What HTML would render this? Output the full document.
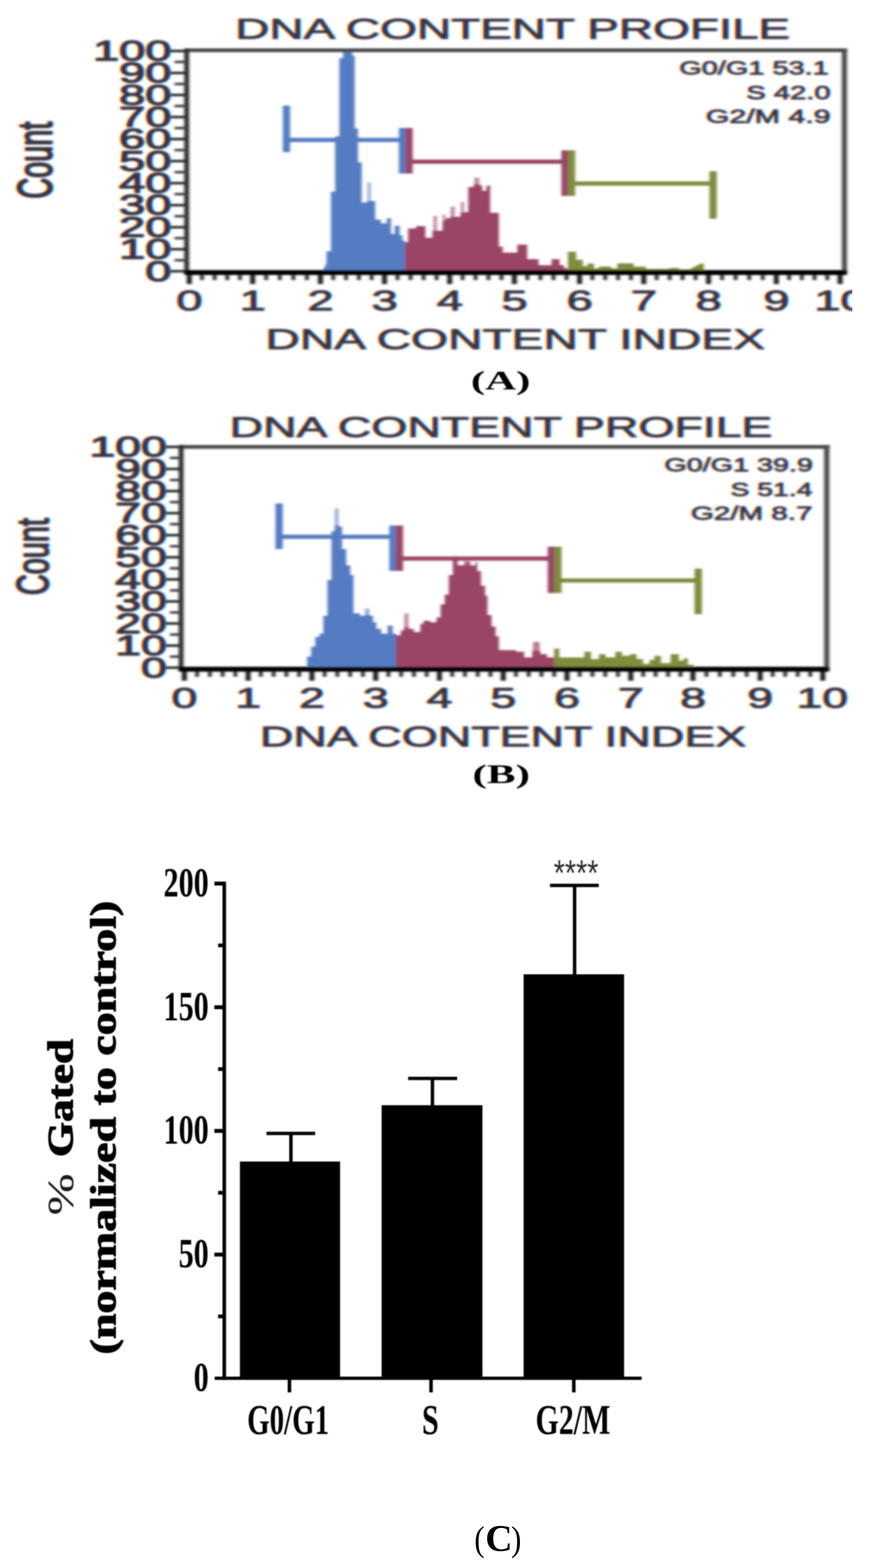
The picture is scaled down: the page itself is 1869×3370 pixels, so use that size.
<!DOCTYPE html>
<html lang="en"><head><meta charset="utf-8"><title>Cell cycle analysis</title>
<style>
html,body{margin:0;padding:0;background:#fff;}
body{width:1869px;height:3370px;}
svg{display:block;}
</style></head><body>
<svg width="1869" height="3370" viewBox="0 0 1869 3370">
<defs>
<filter id="bl" filterUnits="userSpaceOnUse" x="0" y="0" width="1869" height="1760"><feGaussianBlur stdDeviation="3.1 2.1"/></filter>
<filter id="tfA" filterUnits="userSpaceOnUse" x="-20" y="0" width="1909" height="860" color-interpolation-filters="sRGB"><feGaussianBlur in="SourceGraphic" stdDeviation="2.9 1.9" result="bl0"/><feFlood flood-color="#fff" result="w"/><feComposite in="bl0" in2="w" operator="over" result="img"/><feColorMatrix in="img" type="matrix" values="1 0 0 0 0  0 0 0 0 0  0 0 0 0 0  0 0 0 1 0" result="r"/><feOffset in="r" dx="1.8" dy="0" result="r2"/><feColorMatrix in="img" type="matrix" values="0 0 0 0 0  0 1 0 0 0  0 0 0 0 0  0 0 0 1 0" result="g"/><feColorMatrix in="img" type="matrix" values="0 0 0 0 0  0 0 0 0 0  0 0 1 0 0  0 0 0 1 0" result="b1"/><feOffset in="b1" dx="-1.8" dy="0" result="b2"/><feComposite in="r2" in2="g" operator="arithmetic" k1="0" k2="1" k3="1" k4="0" result="rg"/><feComposite in="rg" in2="b2" operator="arithmetic" k1="0" k2="1" k3="1" k4="0"/></filter>
<filter id="tfB" filterUnits="userSpaceOnUse" x="-20" y="860" width="1909" height="900" color-interpolation-filters="sRGB"><feGaussianBlur in="SourceGraphic" stdDeviation="2.9 1.9" result="bl0"/><feFlood flood-color="#fff" result="w"/><feComposite in="bl0" in2="w" operator="over" result="img"/><feColorMatrix in="img" type="matrix" values="1 0 0 0 0  0 0 0 0 0  0 0 0 0 0  0 0 0 1 0" result="r"/><feOffset in="r" dx="1.8" dy="0" result="r2"/><feColorMatrix in="img" type="matrix" values="0 0 0 0 0  0 1 0 0 0  0 0 0 0 0  0 0 0 1 0" result="g"/><feColorMatrix in="img" type="matrix" values="0 0 0 0 0  0 0 0 0 0  0 0 1 0 0  0 0 0 1 0" result="b1"/><feOffset in="b1" dx="-1.8" dy="0" result="b2"/><feComposite in="r2" in2="g" operator="arithmetic" k1="0" k2="1" k3="1" k4="0" result="rg"/><feComposite in="rg" in2="b2" operator="arithmetic" k1="0" k2="1" k3="1" k4="0"/></filter>
<filter id="blc" filterUnits="userSpaceOnUse" x="0" y="1760" width="1869" height="1610"><feGaussianBlur stdDeviation="1.15"/></filter>
<filter id="blcap" filterUnits="userSpaceOnUse" x="900" y="760" width="400" height="1000"><feGaussianBlur stdDeviation="1.4"/></filter>
<clipPath id="clipA"><rect x="0" y="0" width="1830.5" height="800"/></clipPath>
</defs>
<rect width="1869" height="3370" fill="#fff"/>
<g clip-path="url(#clipA)"><g filter="url(#tfA)" fill="#38343f" stroke="#38343f" stroke-width="1.8" stroke-linejoin="round" font-family="'Liberation Sans',sans-serif"><text x="505" y="82.5" font-size="62" textLength="1192" lengthAdjust="spacingAndGlyphs">DNA CONTENT PROFILE</text><text x="570" y="750" font-size="62" textLength="1073" lengthAdjust="spacingAndGlyphs">DNA CONTENT INDEX</text><text x="378.6" y="667" font-size="61" stroke-width="2.1" textLength="56.2" lengthAdjust="spacingAndGlyphs">0</text><text x="514.6" y="667" font-size="61" stroke-width="2.1" textLength="56.2" lengthAdjust="spacingAndGlyphs">1</text><text x="660.3" y="667" font-size="61" stroke-width="2.1" textLength="56.2" lengthAdjust="spacingAndGlyphs">2</text><text x="797.9" y="667" font-size="61" stroke-width="2.1" textLength="56.2" lengthAdjust="spacingAndGlyphs">3</text><text x="937.9" y="667" font-size="61" stroke-width="2.1" textLength="56.2" lengthAdjust="spacingAndGlyphs">4</text><text x="1076.9" y="667" font-size="61" stroke-width="2.1" textLength="56.2" lengthAdjust="spacingAndGlyphs">5</text><text x="1216.9" y="667" font-size="61" stroke-width="2.1" textLength="56.2" lengthAdjust="spacingAndGlyphs">6</text><text x="1354.9" y="667" font-size="61" stroke-width="2.1" textLength="56.2" lengthAdjust="spacingAndGlyphs">7</text><text x="1493.9" y="667" font-size="61" stroke-width="2.1" textLength="56.2" lengthAdjust="spacingAndGlyphs">8</text><text x="1639.7" y="667" font-size="61" stroke-width="2.1" textLength="56.2" lengthAdjust="spacingAndGlyphs">9</text><text x="1749.0" y="667" font-size="61" stroke-width="2.1" textLength="112.4" lengthAdjust="spacingAndGlyphs">10</text><text x="311.8" y="603.5" font-size="61" stroke-width="2.6" textLength="56.2" lengthAdjust="spacingAndGlyphs">0</text><text x="255.6" y="556.1" font-size="61" stroke-width="2.6" textLength="112.4" lengthAdjust="spacingAndGlyphs">10</text><text x="255.6" y="508.8" font-size="61" stroke-width="2.6" textLength="112.4" lengthAdjust="spacingAndGlyphs">20</text><text x="255.6" y="461.4" font-size="61" stroke-width="2.6" textLength="112.4" lengthAdjust="spacingAndGlyphs">30</text><text x="255.6" y="414.1" font-size="61" stroke-width="2.6" textLength="112.4" lengthAdjust="spacingAndGlyphs">40</text><text x="255.6" y="366.8" font-size="61" stroke-width="2.6" textLength="112.4" lengthAdjust="spacingAndGlyphs">50</text><text x="255.6" y="319.4" font-size="61" stroke-width="2.6" textLength="112.4" lengthAdjust="spacingAndGlyphs">60</text><text x="255.6" y="272.1" font-size="61" stroke-width="2.6" textLength="112.4" lengthAdjust="spacingAndGlyphs">70</text><text x="255.6" y="224.7" font-size="61" stroke-width="2.6" textLength="112.4" lengthAdjust="spacingAndGlyphs">80</text><text x="255.6" y="177.4" font-size="61" stroke-width="2.6" textLength="112.4" lengthAdjust="spacingAndGlyphs">90</text><text x="199.4" y="130.0" font-size="61" stroke-width="2.6" textLength="168.6" lengthAdjust="spacingAndGlyphs">100</text><text transform="translate(110.5,427) scale(1.68,1.0) rotate(-90)" font-size="62" stroke-width="3">Count</text><text x="1459" y="160" font-size="41" textLength="321" lengthAdjust="spacingAndGlyphs">G0/G1 53.1</text><text x="1603" y="212.5" font-size="41" textLength="181" lengthAdjust="spacingAndGlyphs">S 42.0</text><text x="1516" y="263.5" font-size="41" textLength="268" lengthAdjust="spacingAndGlyphs">G2/M 4.9</text></g><g filter="url(#bl)"><path d="M701.5,581.5L701.5,540.0L710.8,540.0L710.8,412.0L720.0,412.0L720.0,293.0L729.0,293.0L729.0,125.0L737.0,125.0L737.0,109.0L757.0,109.0L757.0,120.0L762.0,120.0L762.0,276.0L769.0,276.0L769.0,349.0L777.0,349.0L777.0,435.5L788.0,435.5L788.0,432.0L798.5,432.0L798.5,432.0L806.0,432.0L806.0,472.0L818.0,472.0L818.0,480.0L831.0,480.0L831.0,469.0L840.0,469.0L840.0,503.0L848.0,503.0L848.0,485.0L858.6,485.0L858.6,506.0L864.8,506.0L864.8,518.0L871.0,518.0L871.0,581.5Z" fill="#547bc2"/><path d="M870.0,581.5L870.0,521.0L876.8,521.0L876.8,491.0L893.6,491.0L893.6,486.0L913.7,486.0L913.7,511.0L928.9,511.0L928.9,496.0L950.7,496.0L950.7,475.0L957.4,475.0L957.4,469.0L967.5,469.0L967.5,466.0L977.6,466.0L977.6,466.0L989.3,466.0L989.3,457.0L997.7,457.0L997.7,456.0L1006.0,456.0L1006.0,402.0L1017.9,402.0L1017.9,396.0L1031.3,396.0L1031.3,410.0L1053.0,410.0L1053.0,457.6L1071.6,457.6L1071.6,530.0L1080.0,530.0L1080.0,543.0L1111.5,543.0L1111.5,525.7L1132.5,525.7L1132.5,557.0L1157.0,557.0L1157.0,570.0L1185.0,570.0L1185.0,557.0L1202.0,557.0L1202.0,570.0L1212.0,570.0L1212.0,577.0L1220.0,577.0L1220.0,581.5Z" fill="#9a4465"/><path d="M1220.0,581.5L1220.0,541.0L1237.5,541.0L1237.5,558.5L1252.0,558.5L1252.0,572.0L1262.0,572.0L1262.0,566.5L1276.0,566.5L1276.0,577.0L1286.0,577.0L1286.0,573.0L1313.0,573.0L1313.0,577.0L1326.0,577.0L1326.0,566.0L1361.0,566.0L1361.0,573.0L1387.0,573.0L1387.0,578.0L1438.0,578.0L1438.0,576.0L1459.0,576.0L1459.0,579.0L1483.0,579.0L1483.0,581.5Z" fill="#7f8b3d"/><rect x="789.0" y="392.0" width="8.0" height="42.0" fill="#547bc2" opacity="0.55"/><rect x="931.0" y="464.0" width="8.0" height="33.0" fill="#9a4465" opacity="0.6"/><rect x="951.0" y="461.0" width="6.0" height="15.0" fill="#9a4465" opacity="0.6"/><rect x="968.0" y="444.0" width="9.0" height="23.0" fill="#9a4465" opacity="0.6"/><rect x="990.0" y="434.0" width="7.0" height="24.0" fill="#9a4465" opacity="0.6"/><rect x="1019.0" y="382.0" width="11.0" height="15.0" fill="#9a4465" opacity="0.6"/><rect x="1031.0" y="399.0" width="5.0" height="12.0" fill="#9a4465" opacity="1"/><rect x="1045.0" y="399.0" width="8.0" height="12.0" fill="#9a4465" opacity="1"/><polygon points="693,582 701.5,565 701.5,582" fill="#547bc2"/><polygon points="1483,582 1483,578 1505,566.5 1512,566.5 1512,582" fill="#7f8b3d"/><rect x="615.4" y="296.3" width="255.6" height="9.0" fill="#547bc2"/><rect x="607.6" y="227.0" width="15.5" height="100.0" fill="#547bc2"/><rect x="857.0" y="275.0" width="15.0" height="98.0" fill="#547bc2"/><rect x="871.0" y="343.0" width="349.0" height="9.0" fill="#9a4465"/><rect x="871.0" y="275.0" width="15.5" height="98.0" fill="#9a4465"/><rect x="1206.0" y="323.0" width="15.0" height="98.0" fill="#9a4465"/><rect x="1220.0" y="390.0" width="312.0" height="9.0" fill="#7f8b3d"/><rect x="1220.0" y="323.0" width="15.5" height="98.0" fill="#7f8b3d"/><rect x="1524.2" y="368.0" width="15.5" height="102.0" fill="#7f8b3d"/><rect x="395.8" y="104.0" width="1424.5" height="8.0" fill="#484848"/><rect x="1808.5" y="104.0" width="11.0" height="483.5" fill="#484848"/><rect x="395.8" y="104.0" width="10.5" height="483.5" fill="#2e2e2e"/><rect x="364.0" y="580.2" width="37.0" height="5.5" fill="#2e2e2e"/><rect x="375.0" y="556.6" width="26.0" height="5.5" fill="#444"/><rect x="364.0" y="532.9" width="37.0" height="5.5" fill="#2e2e2e"/><rect x="375.0" y="509.2" width="26.0" height="5.5" fill="#444"/><rect x="364.0" y="485.6" width="37.0" height="5.5" fill="#2e2e2e"/><rect x="375.0" y="461.9" width="26.0" height="5.5" fill="#444"/><rect x="364.0" y="438.2" width="37.0" height="5.5" fill="#2e2e2e"/><rect x="375.0" y="414.5" width="26.0" height="5.5" fill="#444"/><rect x="364.0" y="390.9" width="37.0" height="5.5" fill="#2e2e2e"/><rect x="375.0" y="367.2" width="26.0" height="5.5" fill="#444"/><rect x="364.0" y="343.5" width="37.0" height="5.5" fill="#2e2e2e"/><rect x="375.0" y="319.8" width="26.0" height="5.5" fill="#444"/><rect x="364.0" y="296.1" width="37.0" height="5.5" fill="#2e2e2e"/><rect x="375.0" y="272.5" width="26.0" height="5.5" fill="#444"/><rect x="364.0" y="248.8" width="37.0" height="5.5" fill="#2e2e2e"/><rect x="375.0" y="225.1" width="26.0" height="5.5" fill="#444"/><rect x="364.0" y="201.4" width="37.0" height="5.5" fill="#2e2e2e"/><rect x="375.0" y="177.8" width="26.0" height="5.5" fill="#444"/><rect x="364.0" y="154.1" width="37.0" height="5.5" fill="#2e2e2e"/><rect x="375.0" y="130.4" width="26.0" height="5.5" fill="#444"/><rect x="364.0" y="106.8" width="37.0" height="5.5" fill="#2e2e2e"/><rect x="429.9" y="585.8" width="8.0" height="16.2" fill="#2a2a2a"/><rect x="457.1" y="585.8" width="8.0" height="16.2" fill="#2a2a2a"/><rect x="484.3" y="585.8" width="8.0" height="16.2" fill="#2a2a2a"/><rect x="511.5" y="585.8" width="8.0" height="16.2" fill="#2a2a2a"/><rect x="567.8" y="585.8" width="8.0" height="16.2" fill="#2a2a2a"/><rect x="597.0" y="585.8" width="8.0" height="16.2" fill="#2a2a2a"/><rect x="626.1" y="585.8" width="8.0" height="16.2" fill="#2a2a2a"/><rect x="655.3" y="585.8" width="8.0" height="16.2" fill="#2a2a2a"/><rect x="711.9" y="585.8" width="8.0" height="16.2" fill="#2a2a2a"/><rect x="739.4" y="585.8" width="8.0" height="16.2" fill="#2a2a2a"/><rect x="767.0" y="585.8" width="8.0" height="16.2" fill="#2a2a2a"/><rect x="794.5" y="585.8" width="8.0" height="16.2" fill="#2a2a2a"/><rect x="850.0" y="585.8" width="8.0" height="16.2" fill="#2a2a2a"/><rect x="878.0" y="585.8" width="8.0" height="16.2" fill="#2a2a2a"/><rect x="906.0" y="585.8" width="8.0" height="16.2" fill="#2a2a2a"/><rect x="934.0" y="585.8" width="8.0" height="16.2" fill="#2a2a2a"/><rect x="989.8" y="585.8" width="8.0" height="16.2" fill="#2a2a2a"/><rect x="1017.6" y="585.8" width="8.0" height="16.2" fill="#2a2a2a"/><rect x="1045.4" y="585.8" width="8.0" height="16.2" fill="#2a2a2a"/><rect x="1073.2" y="585.8" width="8.0" height="16.2" fill="#2a2a2a"/><rect x="1129.0" y="585.8" width="8.0" height="16.2" fill="#2a2a2a"/><rect x="1157.0" y="585.8" width="8.0" height="16.2" fill="#2a2a2a"/><rect x="1185.0" y="585.8" width="8.0" height="16.2" fill="#2a2a2a"/><rect x="1213.0" y="585.8" width="8.0" height="16.2" fill="#2a2a2a"/><rect x="1268.6" y="585.8" width="8.0" height="16.2" fill="#2a2a2a"/><rect x="1296.2" y="585.8" width="8.0" height="16.2" fill="#2a2a2a"/><rect x="1323.8" y="585.8" width="8.0" height="16.2" fill="#2a2a2a"/><rect x="1351.4" y="585.8" width="8.0" height="16.2" fill="#2a2a2a"/><rect x="1406.8" y="585.8" width="8.0" height="16.2" fill="#2a2a2a"/><rect x="1434.6" y="585.8" width="8.0" height="16.2" fill="#2a2a2a"/><rect x="1462.4" y="585.8" width="8.0" height="16.2" fill="#2a2a2a"/><rect x="1490.2" y="585.8" width="8.0" height="16.2" fill="#2a2a2a"/><rect x="1547.2" y="585.8" width="8.0" height="16.2" fill="#2a2a2a"/><rect x="1576.3" y="585.8" width="8.0" height="16.2" fill="#2a2a2a"/><rect x="1605.5" y="585.8" width="8.0" height="16.2" fill="#2a2a2a"/><rect x="1634.6" y="585.8" width="8.0" height="16.2" fill="#2a2a2a"/><rect x="1691.2" y="585.8" width="8.0" height="16.2" fill="#2a2a2a"/><rect x="1718.6" y="585.8" width="8.0" height="16.2" fill="#2a2a2a"/><rect x="1745.9" y="585.8" width="8.0" height="16.2" fill="#2a2a2a"/><rect x="1773.3" y="585.8" width="8.0" height="16.2" fill="#2a2a2a"/><rect x="401.4" y="585.8" width="10.5" height="24.7" fill="#1a1a1a"/><rect x="537.5" y="585.8" width="10.5" height="24.7" fill="#1a1a1a"/><rect x="683.1" y="585.8" width="10.5" height="24.7" fill="#1a1a1a"/><rect x="820.8" y="585.8" width="10.5" height="24.7" fill="#1a1a1a"/><rect x="960.8" y="585.8" width="10.5" height="24.7" fill="#1a1a1a"/><rect x="1099.8" y="585.8" width="10.5" height="24.7" fill="#1a1a1a"/><rect x="1239.8" y="585.8" width="10.5" height="24.7" fill="#1a1a1a"/><rect x="1377.8" y="585.8" width="10.5" height="24.7" fill="#1a1a1a"/><rect x="1516.8" y="585.8" width="10.5" height="24.7" fill="#1a1a1a"/><rect x="1662.5" y="585.8" width="10.5" height="24.7" fill="#1a1a1a"/><rect x="1799.5" y="585.8" width="10.5" height="24.7" fill="#1a1a1a"/><rect x="395.8" y="580.5" width="1423.8" height="10.5" fill="#000"/></g></g>
<g filter="url(#tfB)" fill="#38343f" stroke="#38343f" stroke-width="1.8" stroke-linejoin="round" font-family="'Liberation Sans',sans-serif"><text x="493" y="939" font-size="62" textLength="1166" lengthAdjust="spacingAndGlyphs">DNA CONTENT PROFILE</text><text x="558" y="1604" font-size="62" textLength="1045" lengthAdjust="spacingAndGlyphs">DNA CONTENT INDEX</text><text x="368.3" y="1521" font-size="61" stroke-width="2.1" textLength="55.3" lengthAdjust="spacingAndGlyphs">0</text><text x="505.3" y="1521" font-size="61" stroke-width="2.1" textLength="55.3" lengthAdjust="spacingAndGlyphs">1</text><text x="642.3" y="1521" font-size="61" stroke-width="2.1" textLength="55.3" lengthAdjust="spacingAndGlyphs">2</text><text x="779.3" y="1521" font-size="61" stroke-width="2.1" textLength="55.3" lengthAdjust="spacingAndGlyphs">3</text><text x="916.3" y="1521" font-size="61" stroke-width="2.1" textLength="55.3" lengthAdjust="spacingAndGlyphs">4</text><text x="1053.3" y="1521" font-size="61" stroke-width="2.1" textLength="55.3" lengthAdjust="spacingAndGlyphs">5</text><text x="1190.3" y="1521" font-size="61" stroke-width="2.1" textLength="55.3" lengthAdjust="spacingAndGlyphs">6</text><text x="1327.3" y="1521" font-size="61" stroke-width="2.1" textLength="55.3" lengthAdjust="spacingAndGlyphs">7</text><text x="1460.9" y="1521" font-size="61" stroke-width="2.1" textLength="55.3" lengthAdjust="spacingAndGlyphs">8</text><text x="1605.3" y="1521" font-size="61" stroke-width="2.1" textLength="55.3" lengthAdjust="spacingAndGlyphs">9</text><text x="1711.0" y="1521" font-size="61" stroke-width="2.1" textLength="110.7" lengthAdjust="spacingAndGlyphs">10</text><text x="302.7" y="1455.5" font-size="61" stroke-width="2.6" textLength="55.3" lengthAdjust="spacingAndGlyphs">0</text><text x="247.3" y="1408.0" font-size="61" stroke-width="2.6" textLength="110.7" lengthAdjust="spacingAndGlyphs">10</text><text x="247.3" y="1360.6" font-size="61" stroke-width="2.6" textLength="110.7" lengthAdjust="spacingAndGlyphs">20</text><text x="247.3" y="1313.2" font-size="61" stroke-width="2.6" textLength="110.7" lengthAdjust="spacingAndGlyphs">30</text><text x="247.3" y="1265.7" font-size="61" stroke-width="2.6" textLength="110.7" lengthAdjust="spacingAndGlyphs">40</text><text x="247.3" y="1218.2" font-size="61" stroke-width="2.6" textLength="110.7" lengthAdjust="spacingAndGlyphs">50</text><text x="247.3" y="1170.8" font-size="61" stroke-width="2.6" textLength="110.7" lengthAdjust="spacingAndGlyphs">60</text><text x="247.3" y="1123.3" font-size="61" stroke-width="2.6" textLength="110.7" lengthAdjust="spacingAndGlyphs">70</text><text x="247.3" y="1075.9" font-size="61" stroke-width="2.6" textLength="110.7" lengthAdjust="spacingAndGlyphs">80</text><text x="247.3" y="1028.5" font-size="61" stroke-width="2.6" textLength="110.7" lengthAdjust="spacingAndGlyphs">90</text><text x="192.0" y="981.0" font-size="61" stroke-width="2.6" textLength="166.0" lengthAdjust="spacingAndGlyphs">100</text><text transform="translate(103.5,1279) scale(1.56,1.0) rotate(-90)" font-size="62" stroke-width="3">Count</text><text x="1427" y="1013" font-size="41" textLength="319" lengthAdjust="spacingAndGlyphs">G0/G1 39.9</text><text x="1569" y="1065.5" font-size="41" textLength="176" lengthAdjust="spacingAndGlyphs">S 51.4</text><text x="1484" y="1116.5" font-size="41" textLength="261" lengthAdjust="spacingAndGlyphs">G2/M 8.7</text></g><g filter="url(#bl)"><path d="M659.7,1434.0L659.7,1410.9L668.5,1410.9L668.5,1389.9L677.2,1389.9L677.2,1368.9L686.0,1368.9L686.0,1361.9L694.7,1361.9L694.7,1323.4L703.5,1323.4L703.5,1246.4L712.2,1246.4L712.2,1141.5L719.2,1141.5L719.2,1129.2L727.9,1129.2L727.9,1131.7L734.9,1131.7L734.9,1180.0L743.7,1180.0L743.7,1214.9L752.4,1214.9L752.4,1235.9L759.4,1235.9L759.4,1318.2L773.4,1318.2L773.4,1323.4L783.9,1323.4L783.9,1321.7L794.4,1321.7L794.4,1323.4L801.4,1323.4L801.4,1337.4L808.4,1337.4L808.4,1351.4L818.9,1351.4L818.9,1361.9L832.9,1361.9L832.9,1344.4L843.4,1344.4L843.4,1361.9L851.1,1361.9L851.1,1434.0Z" fill="#547bc2"/><path d="M850.1,1434.0L850.1,1365.4L860.9,1365.4L860.9,1354.9L867.9,1354.9L867.9,1347.9L878.4,1347.9L878.4,1351.4L888.9,1351.4L888.9,1358.4L902.9,1358.4L902.9,1340.9L909.9,1340.9L909.9,1333.9L923.9,1333.9L923.9,1337.4L937.9,1337.4L937.9,1326.9L946.6,1326.9L946.6,1298.9L955.4,1298.9L955.4,1277.9L964.1,1277.9L964.1,1235.9L972.9,1235.9L972.9,1204.5L979.9,1204.5L979.9,1214.9L1000.2,1214.9L1000.0,1215.2L1024.5,1215.2L1024.5,1227.5L1033.2,1227.5L1033.2,1259.0L1042.0,1259.0L1042.0,1280.0L1047.2,1280.0L1047.2,1321.9L1056.0,1321.9L1056.0,1346.4L1064.7,1346.4L1064.7,1367.4L1071.7,1367.4L1071.7,1397.2L1108.5,1397.2L1108.5,1400.7L1126.0,1400.7L1126.0,1412.9L1143.5,1412.9L1143.5,1398.9L1161.0,1398.9L1161.0,1405.9L1174.9,1405.9L1174.9,1412.9L1191.4,1412.9L1191.4,1434.0Z" fill="#9a4465"/><path d="M1190.7,1434.0L1190.7,1393.7L1201.2,1393.7L1201.2,1412.9L1255.4,1412.9L1255.4,1400.7L1269.4,1400.7L1269.4,1416.4L1286.9,1416.4L1286.9,1405.9L1300.9,1405.9L1300.9,1412.9L1321.9,1412.9L1321.9,1400.7L1335.9,1400.7L1335.9,1409.4L1353.4,1409.4L1353.4,1405.9L1367.4,1405.9L1367.4,1416.4L1381.4,1416.4L1381.4,1426.9L1395.4,1426.9L1395.4,1418.2L1405.9,1418.2L1405.9,1409.4L1419.9,1409.4L1419.9,1425.2L1440.9,1425.2L1440.9,1405.9L1458.4,1405.9L1458.4,1419.9L1468.9,1419.9L1468.9,1414.7L1477.6,1414.7L1477.6,1428.7L1489.9,1428.7L1489.9,1434.0Z" fill="#7f8b3d"/><rect x="719.2" y="1092.5" width="8.0" height="38.5" fill="#547bc2" opacity="0.6"/><rect x="783.9" y="1307.7" width="9.8" height="16.4" fill="#547bc2" opacity="0.6"/><rect x="868.6" y="1318.2" width="9.1" height="31.5" fill="#9a4465" opacity="0.6"/><rect x="972.9" y="1195.7" width="10.5" height="21.0" fill="#9a4465" opacity="0.9"/><rect x="997.4" y="1206.5" width="13.1" height="10.5" fill="#9a4465" opacity="0.9"/><rect x="1021.0" y="1208.2" width="4.2" height="19.2" fill="#9a4465" opacity="0.9"/><rect x="1145.2" y="1379.7" width="14.0" height="21.0" fill="#9a4465" opacity="0.7"/><rect x="599.5" y="1149.2" width="250.9" height="9.0" fill="#547bc2"/><rect x="591.8" y="1082.0" width="15.5" height="98.0" fill="#547bc2"/><rect x="836.4" y="1129.5" width="15.0" height="97.5" fill="#547bc2"/><rect x="850.4" y="1196.0" width="340.3" height="9.0" fill="#9a4465"/><rect x="850.4" y="1129.5" width="15.5" height="97.5" fill="#9a4465"/><rect x="1176.7" y="1175.0" width="15.0" height="99.5" fill="#9a4465"/><rect x="1190.7" y="1243.1" width="309.3" height="9.0" fill="#7f8b3d"/><rect x="1190.7" y="1175.0" width="15.5" height="99.5" fill="#7f8b3d"/><rect x="1492.2" y="1222.0" width="15.5" height="98.0" fill="#7f8b3d"/><rect x="383.8" y="956.5" width="1398.5" height="8.0" fill="#484848"/><rect x="1770.5" y="956.5" width="11.0" height="483.5" fill="#484848"/><rect x="383.8" y="956.5" width="10.5" height="483.5" fill="#2e2e2e"/><rect x="354.0" y="1432.2" width="35.0" height="5.5" fill="#2e2e2e"/><rect x="365.0" y="1408.5" width="24.0" height="5.5" fill="#444"/><rect x="354.0" y="1384.8" width="35.0" height="5.5" fill="#2e2e2e"/><rect x="365.0" y="1361.1" width="24.0" height="5.5" fill="#444"/><rect x="354.0" y="1337.3" width="35.0" height="5.5" fill="#2e2e2e"/><rect x="365.0" y="1313.6" width="24.0" height="5.5" fill="#444"/><rect x="354.0" y="1289.9" width="35.0" height="5.5" fill="#2e2e2e"/><rect x="365.0" y="1266.2" width="24.0" height="5.5" fill="#444"/><rect x="354.0" y="1242.5" width="35.0" height="5.5" fill="#2e2e2e"/><rect x="365.0" y="1218.7" width="24.0" height="5.5" fill="#444"/><rect x="354.0" y="1195.0" width="35.0" height="5.5" fill="#2e2e2e"/><rect x="365.0" y="1171.3" width="24.0" height="5.5" fill="#444"/><rect x="354.0" y="1147.5" width="35.0" height="5.5" fill="#2e2e2e"/><rect x="365.0" y="1123.8" width="24.0" height="5.5" fill="#444"/><rect x="354.0" y="1100.1" width="35.0" height="5.5" fill="#2e2e2e"/><rect x="365.0" y="1076.4" width="24.0" height="5.5" fill="#444"/><rect x="354.0" y="1052.7" width="35.0" height="5.5" fill="#2e2e2e"/><rect x="365.0" y="1028.9" width="24.0" height="5.5" fill="#444"/><rect x="354.0" y="1005.2" width="35.0" height="5.5" fill="#2e2e2e"/><rect x="365.0" y="981.5" width="24.0" height="5.5" fill="#444"/><rect x="354.0" y="957.8" width="35.0" height="5.5" fill="#2e2e2e"/><rect x="419.4" y="1438.3" width="8.0" height="16.2" fill="#2a2a2a"/><rect x="446.8" y="1438.3" width="8.0" height="16.2" fill="#2a2a2a"/><rect x="474.2" y="1438.3" width="8.0" height="16.2" fill="#2a2a2a"/><rect x="501.6" y="1438.3" width="8.0" height="16.2" fill="#2a2a2a"/><rect x="556.4" y="1438.3" width="8.0" height="16.2" fill="#2a2a2a"/><rect x="583.8" y="1438.3" width="8.0" height="16.2" fill="#2a2a2a"/><rect x="611.2" y="1438.3" width="8.0" height="16.2" fill="#2a2a2a"/><rect x="638.6" y="1438.3" width="8.0" height="16.2" fill="#2a2a2a"/><rect x="693.4" y="1438.3" width="8.0" height="16.2" fill="#2a2a2a"/><rect x="720.8" y="1438.3" width="8.0" height="16.2" fill="#2a2a2a"/><rect x="748.2" y="1438.3" width="8.0" height="16.2" fill="#2a2a2a"/><rect x="775.6" y="1438.3" width="8.0" height="16.2" fill="#2a2a2a"/><rect x="830.4" y="1438.3" width="8.0" height="16.2" fill="#2a2a2a"/><rect x="857.8" y="1438.3" width="8.0" height="16.2" fill="#2a2a2a"/><rect x="885.2" y="1438.3" width="8.0" height="16.2" fill="#2a2a2a"/><rect x="912.6" y="1438.3" width="8.0" height="16.2" fill="#2a2a2a"/><rect x="967.4" y="1438.3" width="8.0" height="16.2" fill="#2a2a2a"/><rect x="994.8" y="1438.3" width="8.0" height="16.2" fill="#2a2a2a"/><rect x="1022.2" y="1438.3" width="8.0" height="16.2" fill="#2a2a2a"/><rect x="1049.6" y="1438.3" width="8.0" height="16.2" fill="#2a2a2a"/><rect x="1104.4" y="1438.3" width="8.0" height="16.2" fill="#2a2a2a"/><rect x="1131.8" y="1438.3" width="8.0" height="16.2" fill="#2a2a2a"/><rect x="1159.2" y="1438.3" width="8.0" height="16.2" fill="#2a2a2a"/><rect x="1186.6" y="1438.3" width="8.0" height="16.2" fill="#2a2a2a"/><rect x="1241.4" y="1438.3" width="8.0" height="16.2" fill="#2a2a2a"/><rect x="1268.8" y="1438.3" width="8.0" height="16.2" fill="#2a2a2a"/><rect x="1296.2" y="1438.3" width="8.0" height="16.2" fill="#2a2a2a"/><rect x="1323.6" y="1438.3" width="8.0" height="16.2" fill="#2a2a2a"/><rect x="1377.7" y="1438.3" width="8.0" height="16.2" fill="#2a2a2a"/><rect x="1404.4" y="1438.3" width="8.0" height="16.2" fill="#2a2a2a"/><rect x="1431.2" y="1438.3" width="8.0" height="16.2" fill="#2a2a2a"/><rect x="1457.9" y="1438.3" width="8.0" height="16.2" fill="#2a2a2a"/><rect x="1513.5" y="1438.3" width="8.0" height="16.2" fill="#2a2a2a"/><rect x="1542.4" y="1438.3" width="8.0" height="16.2" fill="#2a2a2a"/><rect x="1571.2" y="1438.3" width="8.0" height="16.2" fill="#2a2a2a"/><rect x="1600.1" y="1438.3" width="8.0" height="16.2" fill="#2a2a2a"/><rect x="1655.9" y="1438.3" width="8.0" height="16.2" fill="#2a2a2a"/><rect x="1682.8" y="1438.3" width="8.0" height="16.2" fill="#2a2a2a"/><rect x="1709.8" y="1438.3" width="8.0" height="16.2" fill="#2a2a2a"/><rect x="1736.7" y="1438.3" width="8.0" height="16.2" fill="#2a2a2a"/><rect x="390.8" y="1438.3" width="10.5" height="24.7" fill="#1a1a1a"/><rect x="527.8" y="1438.3" width="10.5" height="24.7" fill="#1a1a1a"/><rect x="664.8" y="1438.3" width="10.5" height="24.7" fill="#1a1a1a"/><rect x="801.8" y="1438.3" width="10.5" height="24.7" fill="#1a1a1a"/><rect x="938.8" y="1438.3" width="10.5" height="24.7" fill="#1a1a1a"/><rect x="1075.8" y="1438.3" width="10.5" height="24.7" fill="#1a1a1a"/><rect x="1212.8" y="1438.3" width="10.5" height="24.7" fill="#1a1a1a"/><rect x="1349.8" y="1438.3" width="10.5" height="24.7" fill="#1a1a1a"/><rect x="1483.3" y="1438.3" width="10.5" height="24.7" fill="#1a1a1a"/><rect x="1627.8" y="1438.3" width="10.5" height="24.7" fill="#1a1a1a"/><rect x="1762.3" y="1438.3" width="10.5" height="24.7" fill="#1a1a1a"/><rect x="383.8" y="1433.0" width="1397.8" height="10.5" fill="#000"/></g>
<g filter="url(#blc)"><rect x="515.4" y="2496.4" width="215.2" height="465.8" fill="#000"/><rect x="819.8" y="2375.4" width="216.6" height="586.8" fill="#000"/><rect x="1124.8" y="2094.0" width="215.9" height="868.2" fill="#000"/><rect x="621.3" y="2436.0" width="7.4" height="62.4" fill="#000"/><rect x="572.5" y="2432.4" width="104.5" height="7.2" fill="#000"/><rect x="925.3" y="2317.8" width="7.4" height="59.6" fill="#000"/><rect x="876.8" y="2314.2" width="105.2" height="7.2" fill="#000"/><rect x="1230.7" y="1903.0" width="7.4" height="193.0" fill="#000"/><rect x="1181.5" y="1899.4" width="104.8" height="7.2" fill="#000"/><rect x="478.0" y="1894.8" width="7.6" height="1070.9" fill="#000"/><rect x="461.0" y="2958.7" width="917.5" height="7.0" fill="#000"/><rect x="460.5" y="2692.2" width="21.3" height="8.4" fill="#000"/><rect x="460.5" y="2426.4" width="21.3" height="8.4" fill="#000"/><rect x="460.5" y="2160.6" width="21.3" height="8.4" fill="#000"/><rect x="460.5" y="1894.8" width="21.3" height="8.4" fill="#000"/><rect x="468.5" y="2825.3" width="13.3" height="8.0" fill="#000"/><rect x="468.5" y="2559.5" width="13.3" height="8.0" fill="#000"/><rect x="468.5" y="2293.7" width="13.3" height="8.0" fill="#000"/><rect x="468.5" y="2027.9" width="13.3" height="8.0" fill="#000"/><rect x="618.0" y="2962.2" width="7.6" height="30.3" fill="#000"/><rect x="922.2" y="2962.2" width="7.6" height="30.3" fill="#000"/><rect x="1228.9" y="2962.2" width="7.6" height="30.3" fill="#000"/><g font-family="'Liberation Serif',serif" font-weight="bold" fill="#000"><text x="416.1" y="2989.0" font-size="88" textLength="32.4" lengthAdjust="spacingAndGlyphs">0</text><text x="383.7" y="2723.2" font-size="88" textLength="64.8" lengthAdjust="spacingAndGlyphs">50</text><text x="351.3" y="2457.4" font-size="88" textLength="97.2" lengthAdjust="spacingAndGlyphs">100</text><text x="351.3" y="2191.6" font-size="88" textLength="97.2" lengthAdjust="spacingAndGlyphs">150</text><text x="351.3" y="1925.8" font-size="88" textLength="97.2" lengthAdjust="spacingAndGlyphs">200</text><text x="531" y="3081.5" font-size="90" textLength="176" lengthAdjust="spacingAndGlyphs">G0/G1</text><text x="906.5" y="3081.5" font-size="90" textLength="36.0" lengthAdjust="spacingAndGlyphs">S</text><text x="1150.5" y="3081.5" font-size="90" textLength="160.5" lengthAdjust="spacingAndGlyphs">G2/M</text></g><g font-family="'Liberation Serif',serif" font-weight="bold" fill="#000" stroke="#000" stroke-width="2" stroke-linejoin="round" font-size="78"><text transform="translate(156,2612) rotate(-90)"><tspan x="0" textLength="90" lengthAdjust="spacingAndGlyphs" font-weight="normal" stroke-width="0.3" fill="#1a1a1a">%</tspan><tspan x="108" font-size="40"> </tspan><tspan x="125" textLength="254" lengthAdjust="spacingAndGlyphs">Gated</tspan></text><text transform="translate(248,2911) rotate(-90)" textLength="975" lengthAdjust="spacingAndGlyphs">(normalized to control)</text></g><text x="1189.5" y="1902.5" font-size="77" fill="#2a2a2a" font-family="'Liberation Sans',sans-serif" textLength="96" lengthAdjust="spacingAndGlyphs">****</text></g>
<g font-family="'Liberation Serif',serif" fill="#000"><g filter="url(#blcap)" font-weight="bold" font-size="58"><text x="1011.5" y="837" textLength="128" lengthAdjust="spacingAndGlyphs">(A)</text><text x="1015" y="1683" textLength="123.5" lengthAdjust="spacingAndGlyphs">(B)</text></g><text y="3333" font-size="77"><tspan x="1019" textLength="22" lengthAdjust="spacingAndGlyphs">(</tspan><tspan x="1042.5" font-size="81" font-weight="bold">C</tspan><tspan x="1098" textLength="22" lengthAdjust="spacingAndGlyphs">)</tspan></text></g>
</svg>
</body></html>
